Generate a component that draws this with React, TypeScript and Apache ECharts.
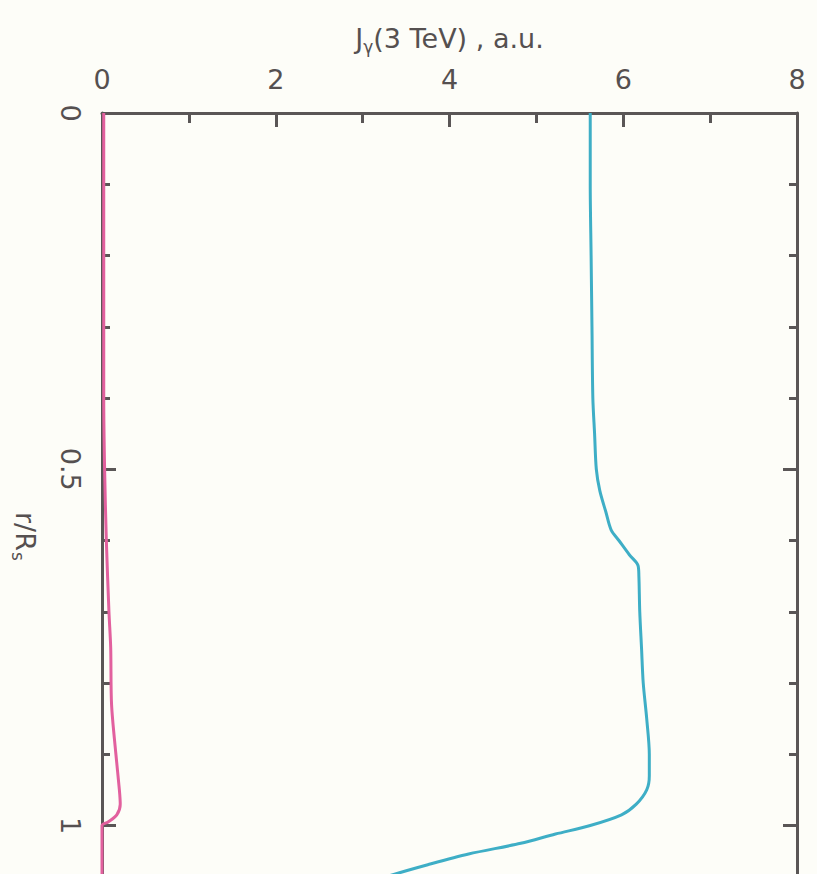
import React, { useEffect, useRef } from "react";
import * as echarts from "echarts";

// r/R_s values (vertical axis) and J_gamma values (horizontal axis)
const cyanR = [0, 0.1, 0.2, 0.3, 0.4, 0.45, 0.5, 0.53, 0.56, 0.585, 0.6, 0.62, 0.635, 0.65, 0.7, 0.75, 0.8, 0.85, 0.9, 0.93, 0.95, 0.97, 0.985, 1.0, 1.012, 1.025, 1.04, 1.055, 1.07, 1.09];
const cyanJ = [5.62, 5.62, 5.63, 5.64, 5.65, 5.67, 5.69, 5.73, 5.8, 5.86, 5.95, 6.07, 6.17, 6.18, 6.19, 6.21, 6.23, 6.27, 6.3, 6.3, 6.27, 6.15, 5.98, 5.62, 5.22, 4.82, 4.22, 3.75, 3.32, 2.8];

const pinkR = [0, 0.1, 0.2, 0.3, 0.4, 0.5, 0.6, 0.7, 0.75, 0.83, 0.9, 0.95, 0.97, 0.985, 0.995, 1.0, 1.05, 1.1];
const pinkJ = [0.02, 0.02, 0.02, 0.02, 0.02, 0.03, 0.05, 0.08, 0.1, 0.11, 0.16, 0.2, 0.21, 0.17, 0.07, 0.0, 0.0, 0.0];

const xTickLabels = ["0", "2", "4", "6", "8"];
const yTickLabels = ["0", "0.5", "1"];

const axisColor = "#5a5656";
const textColor = "#555050";
const font = "DejaVu Sans";

export default function App() {
  const ref = useRef<HTMLDivElement>(null);
  useEffect(() => {
    if (!ref.current) return;
    const chart = echarts.init(ref.current, null, { renderer: "svg" });
    const cyan = cyanR.map((r, i) => [cyanJ[i], r]);
    const pink = pinkR.map((r, i) => [pinkJ[i], r]);
    const yAxisBase = {
      type: "value",
      inverse: true,
      min: 0,
      max: 1.2,
      interval: 0.5,
      splitLine: { show: false },
      axisLine: { show: true, onZero: false, lineStyle: { color: axisColor, width: 3 } },
      axisTick: { show: true, inside: true, length: 14, lineStyle: { color: axisColor, width: 3 } },
      minorTick: { show: true, splitNumber: 5, length: 8, lineStyle: { color: axisColor, width: 3 } },
    };
    chart.setOption({
      animation: false,
      backgroundColor: "#fdfdf8",
      grid: { left: 102, right: 20, top: 113, bottom: 0, containLabel: false, outerBoundsMode: "none" },
      graphic: [
        {
          type: "group",
          x: 25,
          y: 537,
          rotation: -Math.PI / 2,
          children: [
            {
              type: "text",
              x: -25,
              y: 0,
              style: {
                text: "r/R",
                fill: textColor,
                fontFamily: font,
                fontSize: 27,
                align: "left",
                verticalAlign: "middle",
              },
            },
            {
              type: "text",
              x: 15,
              y: 7,
              style: {
                text: "s",
                fill: textColor,
                fontFamily: font,
                fontSize: 17,
                align: "left",
                verticalAlign: "middle",
              },
            },
          ],
        },
      ],
      xAxis: {
        type: "value",
        position: "top",
        min: 0,
        max: 8,
        interval: 2,
        name: "J{sub|γ}(3 TeV) , a.u.",
        nameLocation: "middle",
        nameGap: 58,
        nameTextStyle: {
          color: textColor,
          fontFamily: font,
          fontSize: 27,
          rich: {
            sub: { fontSize: 17, fontFamily: font, color: textColor, verticalAlign: "bottom", lineHeight: 16 },
          },
          lineHeight: 34,
        },
        splitLine: { show: false },
        axisLine: { show: true, onZero: false, lineStyle: { color: axisColor, width: 3 } },
        axisTick: { show: true, inside: true, length: 14, lineStyle: { color: axisColor, width: 3 } },
        minorTick: { show: true, splitNumber: 2, length: 10, lineStyle: { color: axisColor, width: 3 } },
        axisLabel: {
          color: textColor,
          fontFamily: font,
          fontSize: 27,
          margin: 20,
          formatter: (v: number) => (xTickLabels.includes(String(v)) ? String(v) : ""),
        },
      },
      yAxis: [
        {
          ...yAxisBase,
          position: "left",
          axisLabel: {
            color: textColor,
            fontFamily: font,
            fontSize: 27,
            rotate: -90,
            margin: 18,
            formatter: (v: number) => (yTickLabels.includes(String(v)) ? String(v) : ""),
          },
        },
        {
          ...yAxisBase,
          position: "right",
          axisLabel: { show: false },
        },
      ],
      series: [
        {
          type: "line",
          data: pink,
          showSymbol: false,
          smooth: 0.3,
          lineStyle: { color: "#e2609e", width: 3 },
          yAxisIndex: 0,
        },
        {
          type: "line",
          data: cyan,
          showSymbol: false,
          smooth: 0.3,
          lineStyle: { color: "#3eaec6", width: 3 },
          yAxisIndex: 0,
        },
      ],
    });
    return () => chart.dispose();
  }, []);
  return (
    <div
      ref={ref}
      style={{ position: "fixed", left: 0, top: 0, width: 817, height: 968, background: "#fdfdf8" }}
    />
  );
}
